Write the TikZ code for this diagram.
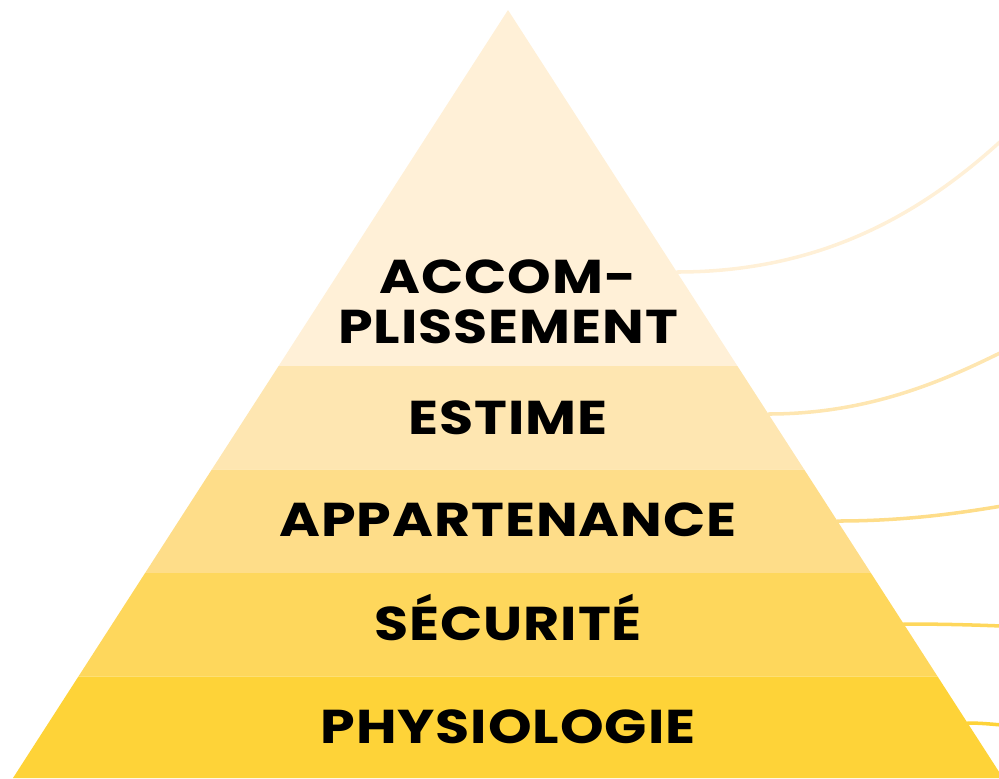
\documentclass[tikz,border=0pt]{standalone}
\usepackage{fontspec}
\setmainfont{Poppins}[FakeStretch=1.17, LetterSpace=2]
\definecolor{lvlA}{HTML}{FFF0D7}
\definecolor{lvlB}{HTML}{FEE6B1}
\definecolor{lvlC}{HTML}{FEDD89}
\definecolor{lvlD}{HTML}{FED75C}
\definecolor{lvlE}{HTML}{FED338}
\begin{document}
\begin{tikzpicture}[
    x=0.02cm, y=-0.02cm,
    every node/.style={font=\bfseries\fontsize{27}{30}\selectfont, inner sep=0pt, anchor=base},
    link/.style={line width=2pt, line cap=round}
]
\useasboundingbox (0,0) rectangle (999,778);
% side curves
\coordinate (eA) at (676.9, 272);
\coordinate (eB) at (768.4, 414);
\coordinate (eC) at (837.3, 521);
\coordinate (eD) at (903.7, 624);
\coordinate (eE) at (967.5, 723);
\draw[link, lvlA] (eA) .. controls (820, 272) and (920, 215) .. (1002, 140);
\draw[link, lvlB] (eB) .. controls (870, 414) and (945, 380) .. (1002, 352);
\draw[link, lvlC] (eC) .. controls (910, 521) and (965, 512) .. (1002, 506);
\draw[link, lvlD] (eD) .. controls (945, 624) and (975, 625) .. (1002, 626);
\draw[link, lvlE] (eE) .. controls (980, 723) and (990, 724) .. (1002, 725);
% pyramid bands
\fill[lvlA] (508, 10) -- (737.4, 366) -- (278.6, 366) -- cycle;
\fill[lvlB] (278.6, 366) -- (737.4, 366) -- (804.2, 469.5) -- (211.8, 469.5) -- cycle;
\fill[lvlC] (211.8, 469.5) -- (804.2, 469.5) -- (870.9, 573) -- (145.1, 573) -- cycle;
\fill[lvlD] (145.1, 573) -- (870.9, 573) -- (937.6, 676.5) -- (78.4, 676.5) -- cycle;
\fill[lvlE] (78.4, 676.5) -- (937.6, 676.5) -- (1003, 778) -- (13, 778) -- cycle;
% labels
\node (accom)  at (508, 293) {ACCOM-};
\node (pliss)  at (508, 343) {PLISSEMENT};
\node (estime) at (508, 434) {ESTIME};
\node (appart) at (508, 536) {APPARTENANCE};
\node (secu)   at (508, 640) {SÉCURITÉ};
\node (physio) at (508, 743) {PHYSIOLOGIE};
\end{tikzpicture}
\end{document}
